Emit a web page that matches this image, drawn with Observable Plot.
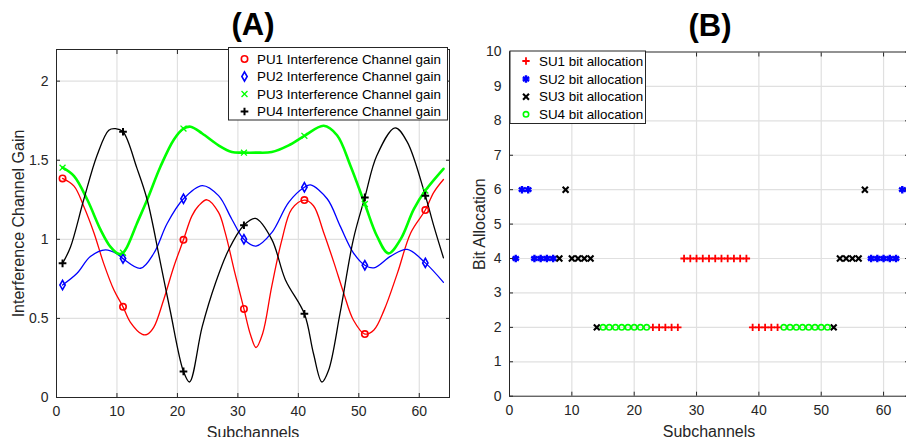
<!DOCTYPE html>
<html>
<head>
<meta charset="utf-8">
<script src="https://cdn.jsdelivr.net/npm/d3@7"></script>
<script src="https://cdn.jsdelivr.net/npm/@observablehq/plot@0.6"></script>
<style>
  html, body { margin: 0; padding: 0; background: #fff; }
  #wrap { position: relative; width: 906px; height: 437px; overflow: hidden; background: #fff;
          font-family: "Liberation Sans", Arial, Helvetica, sans-serif; }
  .panel { position: absolute; top: 0; }
  #overlay { position: absolute; left: 0; top: 0; pointer-events: none; }
</style>
</head>
<body>
<div id="wrap"></div>
<script>
// ---------------- Panel A data ----------------
const markerChannels = [1, 11, 21, 31, 41, 51, 61];

const pu1X = [1, 2.9, 4.5, 6.2, 7.8, 9.5, 11, 12.2, 14.2, 15, 16.1, 17.7, 19.4, 21, 22.4, 23.5, 24.9, 26.8, 27.9, 29.5, 31, 32.1, 33, 34.1, 35.6, 37.3, 38.9, 41, 42.5, 44.2, 45.9, 47.5, 49.1, 51, 52.5, 54.2, 56.4, 58.6, 61, 62.4, 64];
const pu1Y = [1.385, 1.336, 1.209, 1.04, 0.848, 0.679, 0.573, 0.477, 0.399, 0.399, 0.445, 0.615, 0.827, 0.997, 1.148, 1.212, 1.25, 1.17, 1.042, 0.788, 0.56, 0.395, 0.316, 0.405, 0.703, 1.0, 1.191, 1.248, 1.212, 1.042, 0.851, 0.66, 0.49, 0.401, 0.427, 0.554, 0.788, 1.042, 1.185, 1.297, 1.378];

const pu2X = [1, 3.4, 5.6, 8.1, 10, 11, 13.9, 16.1, 18.3, 21, 24.1, 26.8, 29, 31, 33, 35.6, 38.4, 41, 42, 44.8, 46.9, 49.1, 51, 52.5, 55.3, 58, 61, 64];
const pu2Y = [0.711, 0.785, 0.891, 0.933, 0.908, 0.878, 0.817, 0.912, 1.10, 1.256, 1.34, 1.276, 1.127, 1.0, 0.957, 1.042, 1.234, 1.329, 1.344, 1.255, 1.085, 0.915, 0.836, 0.82, 0.894, 0.936, 0.851, 0.728];

const pu3X = [1, 2.9, 5.1, 7.3, 8.9, 10.3, 11, 11.7, 13.3, 15, 17.2, 19.4, 21, 22.2, 24.1, 26.8, 29, 31, 33, 35.6, 38.4, 41, 44.2, 46.4, 48.6, 51, 53, 54.9, 56.9, 59.1, 61, 64];
const pu3Y = [1.453, 1.40, 1.25, 1.06, 0.954, 0.908, 0.915, 0.954, 1.10, 1.25, 1.46, 1.63, 1.70, 1.712, 1.669, 1.594, 1.552, 1.548, 1.548, 1.552, 1.594, 1.654, 1.718, 1.658, 1.467, 1.223, 1.021, 0.911, 1.0, 1.191, 1.308, 1.446];

const pu4X = [1, 2.3, 4.5, 6.7, 8.65, 9.75, 11, 13.3, 15, 17.2, 18.8, 21, 22, 24.1, 26.3, 28.5, 31, 32.9, 35.6, 37.85, 41, 42.5, 43.9, 45, 46.9, 49.1, 51, 53, 56, 58, 61, 62.4, 64];
const pu4Y = [0.848, 0.95, 1.25, 1.53, 1.69, 1.70, 1.68, 1.45, 1.25, 0.85, 0.55, 0.165, 0.098, 0.448, 0.724, 0.936, 1.089, 1.132, 1.0, 0.745, 0.529, 0.278, 0.098, 0.172, 0.533, 1.0, 1.265, 1.531, 1.705, 1.616, 1.276, 1.085, 0.883];

const puNames = ["PU1 Interference Channel gain", "PU2 Interference Channel gain",
                 "PU3 Interference Channel gain", "PU4 Interference Channel gain"];
const xTicksA = [0, 10, 20, 30, 40, 50, 60];
const yTicksA = [0, 0.5, 1, 1.5, 2];
const yTickLabelsA = ["0", "0.5", "1", "1.5", "2"];

// ---------------- Panel B data ----------------
const su1Ch   = [23, 24, 25, 26, 27, 28, 29, 30, 31, 32, 33, 34, 35, 36, 37, 38, 39, 40, 41, 42, 43];
const su1Bits = [2, 2, 2, 2, 2, 4, 4, 4, 4, 4, 4, 4, 4, 4, 4, 4, 2, 2, 2, 2, 2];
const su2Ch   = [1, 2, 3, 4, 5, 6, 7, 58, 59, 60, 61, 62, 63, 64];
const su2Bits = [4, 6, 6, 4, 4, 4, 4, 4, 4, 4, 4, 4, 6, 6];
const su3Ch   = [8, 9, 10, 11, 12, 13, 14, 52, 53, 54, 55, 56, 57];
const su3Bits = [4, 6, 4, 4, 4, 4, 2, 2, 4, 4, 4, 4, 6];
const su4Ch   = [15, 16, 17, 18, 19, 20, 21, 22, 44, 45, 46, 47, 48, 49, 50, 51];
const su4Bits = [2, 2, 2, 2, 2, 2, 2, 2, 2, 2, 2, 2, 2, 2, 2, 2];
const suNames = ["SU1 bit allocation", "SU2 bit allocation", "SU3 bit allocation", "SU4 bit allocation"];
const xTicksB = [0, 10, 20, 30, 40, 50, 60];
const yTicksB = [0, 1, 2, 3, 4, 5, 6, 7, 8, 9, 10];

// ---------------- styles ----------------
const FONT = '"Liberation Sans", Arial, Helvetica, sans-serif';
const AX = "#262626";
const GRID = "#e0e0e0";

const puStyle = [
  {color: "#ff0000", symbol: "circle",  r: 3.2, sw: 1.6, lw: 1.3},
  {color: "#0000ff", symbol: "diamond", r: 2.8, sw: 1.6, lw: 1.3},
  {color: "#00ff00", symbol: "times",   r: 2.8, sw: 1.3, lw: 2.6},
  {color: "#000000", symbol: "plus",    r: 2.6, sw: 2.0, lw: 1.3}
];
const suStyle = [
  {color: "#ff0000", symbol: "plus",     r: 2.5, sw: 1.8},
  {color: "#0000ff", symbol: "asterisk", r: 3.5, sw: 2.4},
  {color: "#000000", symbol: "times",    r: 2.8, sw: 2.1},
  {color: "#00ff00", symbol: "circle",   r: 2.7, sw: 1.6}
];

const rows = (name, xs, ys) => xs.map((x, i) => ({name, x, y: ys[i]}));
const puRows = [rows(puNames[0], pu1X, pu1Y), rows(puNames[1], pu2X, pu2Y),
                rows(puNames[2], pu3X, pu3Y), rows(puNames[3], pu4X, pu4Y)];
const suRows = [rows(suNames[0], su1Ch, su1Bits), rows(suNames[1], su2Ch, su2Bits),
                rows(suNames[2], su3Ch, su3Bits), rows(suNames[3], su4Ch, su4Bits)];

function boxAxes(xt, yt, yFmt) {
  return [
    Plot.axisX(xt, {anchor: "bottom", tickSize: 0, tickPadding: 9, label: null, fontSize: 14, fill: AX}),
    Plot.axisX(xt, {anchor: "bottom", tickSize: 4, dy: -4, tickFormat: () => "", label: null, stroke: AX}),
    Plot.axisX(xt, {anchor: "top", tickSize: 4, dy: 4, tickFormat: () => "", label: null, stroke: AX}),
    Plot.axisY(yt, {anchor: "left", tickSize: 0, tickPadding: 8, label: null, fontSize: 14, fill: AX, tickFormat: yFmt}),
    Plot.axisY(yt, {anchor: "left", tickSize: 4, dx: 4, tickFormat: () => "", label: null, stroke: AX}),
    Plot.axisY(yt, {anchor: "right", tickSize: 4, dx: -4, tickFormat: () => "", label: null, stroke: AX}),
    Plot.frame({stroke: AX, strokeWidth: 1})
  ];
}

const wrap = document.getElementById("wrap");

// ---------------- Panel A ----------------
const plotA = Plot.plot({
  width: 460, height: 437,
  marginLeft: 56, marginRight: 11, marginTop: 49, marginBottom: 40,
  style: {fontFamily: FONT, fontSize: "14px", color: AX, background: "transparent", overflow: "visible"},
  x: {domain: [0, 65]},
  y: {domain: [0, 2.2]},
  marks: [
    Plot.gridX(xTicksA.slice(1), {stroke: GRID, strokeOpacity: 1, strokeWidth: 1.2}),
    Plot.gridY(yTicksA.slice(1), {stroke: GRID, strokeOpacity: 1, strokeWidth: 1.2}),
    ...puRows.map((d, i) => Plot.line(d, {x: "x", y: "y", stroke: puStyle[i].color,
        strokeWidth: puStyle[i].lw, curve: "catmull-rom"})),
    ...puRows.map((d, i) => Plot.dot(d.filter(p => markerChannels.includes(p.x)), {x: "x", y: "y",
        symbol: puStyle[i].symbol, r: puStyle[i].r, stroke: puStyle[i].color, fill: "none",
        strokeWidth: puStyle[i].sw})),
    ...boxAxes(xTicksA, yTicksA, d => yTickLabelsA[yTicksA.indexOf(d)]),
    Plot.text(["Subchannels"], {frameAnchor: "bottom", dy: 29, lineAnchor: "top", fontSize: 16, fill: AX}),
    Plot.text(["Interference Channel Gain"], {frameAnchor: "left", dx: -38, rotate: -90,
        textAnchor: "middle", lineAnchor: "middle", fontSize: 16, fill: AX}),
    Plot.text(["(A)"], {frameAnchor: "top", dy: -24, lineAnchor: "middle", fontSize: 31,
        fontWeight: "bold", fill: "#000"})
  ]
});
plotA.classList.add("panel");
plotA.style.left = "0px";
wrap.appendChild(plotA);

// ---------------- Panel B ----------------
const plotB = Plot.plot({
  width: 448, height: 437,
  marginLeft: 49, marginRight: 0, marginTop: 51.5, marginBottom: 41.3,
  style: {fontFamily: FONT, fontSize: "14px", color: AX, background: "transparent"},
  x: {domain: [0, 64]},
  y: {domain: [0, 10]},
  marks: [
    Plot.gridX(xTicksB.slice(1), {stroke: GRID, strokeOpacity: 1, strokeWidth: 1.2}),
    Plot.gridY(yTicksB.slice(1, -1), {stroke: GRID, strokeOpacity: 1, strokeWidth: 1.2}),
    ...suRows.map((d, i) => Plot.dot(d, {x: "x", y: "y", symbol: suStyle[i].symbol, r: suStyle[i].r,
        stroke: suStyle[i].color, fill: "none", strokeWidth: suStyle[i].sw})),
    ...boxAxes(xTicksB, yTicksB, d => String(d)),
    Plot.text(["Subchannels"], {frameAnchor: "bottom", dy: 29, lineAnchor: "top", fontSize: 16, fill: AX}),
    Plot.text(["Bit Allocation"], {frameAnchor: "left", dx: -30, rotate: -90,
        textAnchor: "middle", lineAnchor: "middle", fontSize: 16, fill: AX}),
    Plot.text(["(B)"], {frameAnchor: "top", dy: -26, dx: 1, lineAnchor: "middle", fontSize: 31,
        fontWeight: "bold", fill: "#000"})
  ]
});
plotB.classList.add("panel");
plotB.style.left = "460px";
wrap.appendChild(plotB);

// ---------------- Legends (overlay) ----------------
const symbolMap = {circle: d3.symbolCircle, diamond: d3.symbolDiamond, times: d3.symbolTimes,
                   plus: d3.symbolPlus, asterisk: d3.symbolAsterisk};
const overlay = d3.select(wrap).append("svg").attr("id", "overlay")
  .attr("width", 906).attr("height", 437);

function legend(box, names, styles) {
  const g = overlay.append("g");
  g.append("rect").attr("x", box.x).attr("y", box.y).attr("width", box.w).attr("height", box.h)
    .attr("fill", "#fff").attr("stroke", AX).attr("stroke-width", 1);
  names.forEach((name, i) => {
    const cy = box.rowY[i];
    const s = styles[i];
    g.append("path")
      .attr("d", d3.symbol(symbolMap[s.symbol], Math.PI * s.r * s.r)())
      .attr("transform", `translate(${box.mx},${cy})`)
      .attr("fill", "none").attr("stroke", s.color).attr("stroke-width", s.sw);
    g.append("text").attr("x", box.tx).attr("y", cy).attr("dy", "0.35em")
      .attr("font-family", FONT).attr("font-size", box.fs).attr("fill", "#000").text(name);
  });
}
legend({x: 228.5, y: 47.5, w: 219, h: 72.5, mx: 244.5, tx: 257, fs: 13.4,
        rowY: [59, 76.5, 94, 111.5]}, puNames, puStyle);
legend({x: 510, y: 51, w: 135.5, h: 72.5, mx: 526, tx: 539, fs: 13.4,
        rowY: [61, 79, 96.7, 114.3]}, suNames, suStyle);
</script>
</body>
</html>
